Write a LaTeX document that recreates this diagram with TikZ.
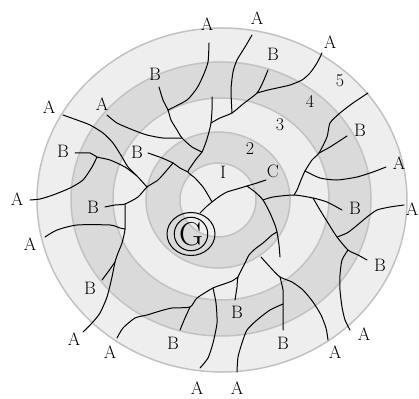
\documentclass[tikz,border=0pt]{standalone}
\usepackage{tikz}
\definecolor{ringlight}{HTML}{EEEEEE}
\definecolor{ringdark}{HTML}{DADADA}
\definecolor{ringedge}{HTML}{C2C2C2}

\begin{document}
\begin{tikzpicture}[x=1pt, y=-1pt,
        ring/.style={draw=ringedge, line width=1.5pt},
        branch/.style={black, line width=1pt, line join=round, line cap=round},
        lbl/.style={inner sep=0pt, font=\fontsize{18}{18}\selectfont},
        goal/.style={circle, draw, line width=1pt, minimum size=32pt, inner sep=0pt, font=\fontsize{33}{33}\selectfont}]

        \fill[white] (0,0) rectangle (419,398);
        \useasboundingbox (0,0) rectangle (419,398);

        % Rings (outside in)
        \filldraw[ring, fill=ringlight] (222,200) ellipse [x radius=185pt, y radius=172pt];
        \filldraw[ring, fill=ringdark] (221,199) ellipse [x radius=150pt, y radius=137pt];
        \filldraw[ring, fill=ringlight] (221,199) ellipse [x radius=108pt, y radius=101pt];
        \filldraw[ring, fill=ringdark] (218,200) ellipse [x radius=72pt, y radius=68pt];
        \filldraw[ring, fill=ringlight] (218,200) ellipse [x radius=38pt, y radius=37pt];

        % Ring numbers
        \node[lbl] (n1) at (223,172) {I};
        \node[lbl] (n2) at (250,149) {2};
        \node[lbl] (n3) at (280,125) {3};
        \node[lbl] (n4) at (310,101) {4};
        \node[lbl] (n5) at (340,81) {5};
        \node[lbl] (c) at (273,171) {C};

        % Goal
        \node[goal] (G) at (191,234) {G};
        \draw[branch] (G.center) ellipse [x radius=24pt, y radius=21.5pt];

        % Outer labels
        \node[lbl] (a1) at (207,24) {A};
        \node[lbl] (a2) at (257,18) {A};
        \node[lbl] (b1) at (273,54) {B};
        \node[lbl] (a3) at (330,42) {A};
        \node[lbl] (b2) at (360,130) {B};
        \node[lbl] (a4) at (399,163) {A};
        \node[lbl] (b3) at (355,208) {B};
        \node[lbl] (a5) at (412,209) {A};
        \node[lbl] (b4) at (380,265) {B};
        \node[lbl] (a6) at (364,334) {A};
        \node[lbl] (a7) at (335,352) {A};
        \node[lbl] (b5) at (283,343) {B};
        \node[lbl] (b6) at (237,312) {B};
        \node[lbl] (b7) at (173,343) {B};
        \node[lbl] (a8) at (197,388) {A};
        \node[lbl] (a9) at (237,388) {A};
        \node[lbl] (a10) at (110,352) {A};
        \node[lbl] (a11) at (74,339) {A};
        \node[lbl] (b8) at (90,288) {B};
        \node[lbl] (a12) at (30,244) {A};
        \node[lbl] (b9) at (93,207) {B};
        \node[lbl] (a13) at (17,199) {A};
        \node[lbl] (b10) at (63,151) {B};
        \node[lbl] (b11) at (137,152) {B};
        \node[lbl] (a14) at (49,107) {A};
        \node[lbl] (a15) at (102,104) {A};
        \node[lbl] (b12) at (155,74) {B};

        % Junctions
        \coordinate (jG) at (212,202);
        \coordinate (jC) at (247,186);
        \coordinate (jH) at (263,200);
        \coordinate (jS) at (277,232);
        \coordinate (jT) at (188,172);
        \coordinate (jU) at (202,152);
        \coordinate (jV) at (211,123);
        \coordinate (jW) at (232,113);
        \coordinate (jX) at (257,93);
        \coordinate (jY) at (182,138);
        \coordinate (jZ) at (168,110);
        \coordinate (jL) at (173,163);
        \coordinate (jM) at (147,187);
        \coordinate (jN) at (97,157);
        \coordinate (jP) at (125,204);
        \coordinate (jQ) at (125,229);
        \coordinate (jR) at (115,262);
        \coordinate (rA) at (319,153);
        \coordinate (rB) at (305,171);
        \coordinate (rC) at (294,195);
        \coordinate (rD) at (313,198);
        \coordinate (rE) at (337,237);
        \coordinate (rF) at (348,250);
        \coordinate (bA) at (238,277);
        \coordinate (bB) at (213,288);
        \coordinate (bC) at (190,307);
        \coordinate (bD) at (280,277);
        \coordinate (bE) at (283,304);

        % Centre and upper branches
        \draw[branch] plot[smooth, tension=.4] coordinates {(200,213) (206,207) (jG) (220,196) (227,192) (237,189) (jC) (257,183) (266,180)};
        \draw[branch] plot[smooth, tension=.4] coordinates {(jG) (208,195) (203,187) (195,178) (jT) (192,165) (197,158) (jU) (206,142) (209,132) (jV) (212,110) (212,97)};
        \draw[branch] plot[smooth, tension=.4] coordinates {(jV) (220,118) (jW) (243,104) (jX) (263,82) (268,70)};
        \draw[branch] plot[smooth, tension=.4] coordinates {(252,35) (245,47) (237,60) (233,72) (231,90) (jW)};
        \draw[branch] plot[smooth, tension=.4] coordinates {(322,53) (317,63) (310,73) (302,80) (290,85) (277,88) (268,90) (jX)};
        \draw[branch] plot[smooth, tension=.4] coordinates {(159,87) (163,100) (jZ) (171,120) (177,130) (jY) (192,147) (jU)};
        \draw[branch] plot[smooth, tension=.4] coordinates {(209,43) (208,62) (203,76) (197,88) (187,100) (jZ)};
        \draw[branch] plot[smooth, tension=.4] coordinates {(107,115) (117,123) (133,130) (147,135) (163,138) (jY)};
        \draw[branch] plot[smooth, tension=.4] coordinates {(148,153) (162,158) (jL) (180,168) (jT)};

        % Left branches
        \draw[branch] plot[smooth, tension=.4] coordinates {(105,207) (115,205) (jP) (138,197) (jM) (158,180) (167,170) (jL)};
        \draw[branch] plot[smooth, tension=.4] coordinates {(63,115) (77,120) (90,125) (103,133) (113,143) (122,157) (128,167) (137,176) (jM)};
        \draw[branch] plot[smooth, tension=.4] coordinates {(75,153) (90,153) (jN) (110,160) (125,167) (137,176)};
        \draw[branch] plot[smooth, tension=.4] coordinates {(jN) (92,167) (83,180) (70,188) (53,195) (40,199) (30,200)};
        \draw[branch] plot[smooth, tension=.4] coordinates {(jP) (jQ) (122,243) (118,253) (jR) (112,277) (107,297) (100,313) (92,323) (83,332)};
        \draw[branch] plot[smooth, tension=.4] coordinates {(45,237) (57,230) (77,225) (110,225) (120,228) (jQ)};
        \draw[branch] plot[smooth, tension=.4] coordinates {(jR) (108,272) (102,280)};

        % Right branches
        \draw[branch] plot[smooth, tension=.4] coordinates {(368,93) (353,103) (340,113) (330,123) (327,137) (rA) (312,160) (rB) (301,180) (297,190) (rC)};
        \draw[branch] plot[smooth, tension=.4] coordinates {(rA) (330,147) (347,136)};
        \draw[branch] plot[smooth, tension=.4] coordinates {(rB) (320,178) (337,180) (357,177) (373,172) (386,167)};
        \draw[branch] plot[smooth, tension=.4] coordinates {(jC) (255,192) (jH) (270,213) (275,225) (jS) (279,245) (280,257)};
        \draw[branch] plot[smooth, tension=.4] coordinates {(jH) (273,197) (rC) (rD) (327,202) (342,210)};
        \draw[branch] plot[smooth, tension=.4] coordinates {(rD) (320,210) (328,223) (rE) (rF) (358,255) (367,260)};
        \draw[branch] plot[smooth, tension=.4] coordinates {(404,205) (390,207) (377,210) (367,217) (355,227) (347,233) (rE)};
        \draw[branch] plot[smooth, tension=.4] coordinates {(rF) (342,260) (340,275) (340,290) (342,307) (345,320) (350,330)};

        % Lower branches
        \draw[branch] plot[smooth, tension=.4] coordinates {(235,300) (237,287) (bA) (245,263) (249,255) (255,249) (263,243) (272,235) (jS)};
        \draw[branch] plot[smooth, tension=.4] coordinates {(117,338) (123,328) (135,318) (147,315) (160,311) (172,308) (bC) (197,298) (bB) (224,284) (232,281) (bA)};
        \draw[branch] plot[smooth, tension=.4] coordinates {(bC) (185,318) (180,330)};
        \draw[branch] plot[smooth, tension=.4] coordinates {(bB) (216,303) (217,323) (213,343) (208,358) (200,368)};
        \draw[branch] plot[smooth, tension=.4] coordinates {(261,257) (270,267) (bD) (292,282) (303,290) (313,302) (321,315) (326,328) (328,340)};
        \draw[branch] plot[smooth, tension=.4] coordinates {(bD) (283,290) (bE) (283,330)};
        \draw[branch] plot[smooth, tension=.4] coordinates {(bE) (270,310) (257,320) (247,330) (242,343) (238,357) (237,372)};
    \end{tikzpicture}
\end{document}
